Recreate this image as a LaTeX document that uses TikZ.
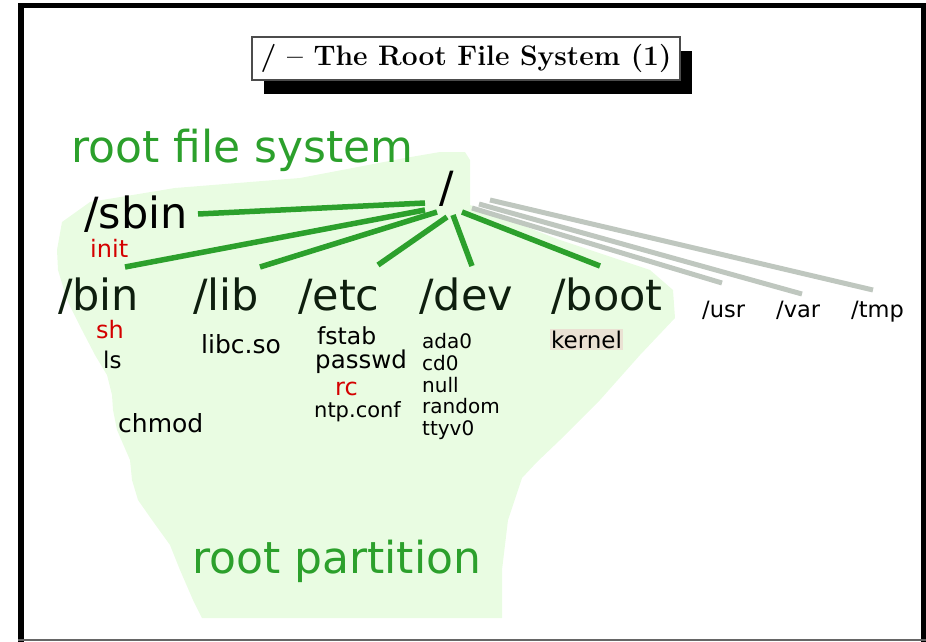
\documentclass[tikz,border=0pt]{standalone}
\usepackage{fontspec}
\newfontfamily\dejavu{DejaVu Sans}
\usetikzlibrary{shadows}
\definecolor{rootgreen}{HTML}{2CA02C}
\definecolor{rootfill}{HTML}{E9FCE2}
\definecolor{rootred}{HTML}{D40000}
\definecolor{rootgray}{HTML}{BFC7BF}
\definecolor{dirdark}{HTML}{0E1E0E}
\definecolor{kernelbg}{HTML}{EAE1D3}

\begin{document}
\begin{tikzpicture}[
    x=1pt, y=-1pt,
    txt/.style={font=\dejavu\fontsize{#1}{#1}\selectfont, inner sep=0pt, anchor=base west},
    dirname/.style={txt=43, text=dirdark},
    othername/.style={txt=22.5, text=black},
    file/.style={txt=#1, text=black},
    redfile/.style={txt=#1, text=rootred},
    bigword/.style={txt=44, text=rootgreen},
    branch/.style={draw=rootgreen, line width=5.5pt},
    faded/.style={draw=rootgray, line width=5pt},
    titlebox/.style={draw=black!70, line width=1.2pt, fill=white, minimum width=428pt, minimum height=43pt, inner sep=0pt, font=\bfseries\fontsize{28.2}{30}\selectfont, drop shadow={shadow xshift=12pt, shadow yshift=-14pt, fill=black, opacity=1}}
]
\useasboundingbox (0,0) rectangle (926,642);

% Frame
\fill[black] (18,3) rectangle (926,8);
\fill[black] (18,3) rectangle (24,642);
\fill[black] (921,3) rectangle (926,642);
\fill[black!60] (18,639) rectangle (926,641);

% Root partition area
\fill[rootfill] (62,222) -- (90,202) -- (175,188) -- (300,178) -- (405,158) -- (440,152) -- (465,152) -- (470,160)
    -- (470,205) -- (560,240) -- (650,270) -- (673,290) -- (675,318) -- (640,355) -- (600,400) -- (560,440)
    -- (537,462) -- (522,478) -- (508,520) -- (502,570) -- (502,618) -- (202,618) -- (193,600) -- (180,570)
    -- (170,545) -- (152,520) -- (138,500) -- (132,480) -- (130,460) -- (117,430) -- (113,410) -- (112,395)
    -- (107,375) -- (95,355) -- (82,330) -- (67,300) -- (58,270) -- (57,250) -- cycle;

% Title
\node[titlebox] (title) at (466,58.5) {/ -- The Root File System (1)};

% Nodes
\node[bigword] (fslabel) at (71,162) {root file system};
\node[bigword] (partlabel) at (192,573) {root partition};

\node[dirname, text=black] (root) at (439,202) {/};
\node[dirname, text=black] (sbin) at (84,228) {/sbin};
\node[dirname] (bin) at (58,310) {/bin};
\node[dirname] (lib) at (193,310) {/lib};
\node[dirname] (etc) at (298,310) {/etc};
\node[dirname] (dev) at (419,310) {/dev};
\node[dirname] (boot) at (551,310) {/boot};
\node[othername] (usr) at (702,317) {/usr};
\node[othername] (var) at (776,317) {/var};
\node[othername] (tmp) at (851,317) {/tmp};

\node[redfile=24] (init) at (90,257) {init};
\node[redfile=24] (sh) at (96,338) {sh};
\node[file=23] (ls) at (103,368) {ls};
\node[file=25] (chmod) at (118,432) {chmod};
\node[file=25] (libc) at (201,353) {libc.so};
\node[file=23.5] (fstab) at (317,344) {fstab};
\node[file=24.5] (passwd) at (315,368) {passwd};
\node[redfile=24] (rc) at (335,395) {rc};
\node[file=21] (ntp) at (314,417) {ntp.conf};
\foreach \name/\y in {ada0/348, cd0/370, null/392, random/413, ttyv0/435}
    \node[file=20] (\name) at (422,\y) {\name};
\node[file=23, fill=kernelbg, inner xsep=1pt, inner ysep=2pt] (kernel) at (550,348) {kernel};

% Branch ends
\foreach \name/\hx/\hy/\cx/\cy in {sbin/425/203/198/214, bin/425/210/125/267, lib/437/212/260/267,
    etc/447/217/378/265, dev/453/215/472/266, boot/462/212/600/266,
    usr/472/208/722/283, var/479/204/802/294, tmp/490/200/873/290} {
    \coordinate (h-\name) at (\hx,\hy);
    \coordinate (c-\name) at (\cx,\cy);
}

% Branches
\foreach \name in {sbin, bin, lib, etc, dev, boot}
    \draw[branch] (h-\name) -- (c-\name);
\foreach \name in {usr, var, tmp}
    \draw[faded] (h-\name) -- (c-\name);

\end{tikzpicture}
\end{document}
